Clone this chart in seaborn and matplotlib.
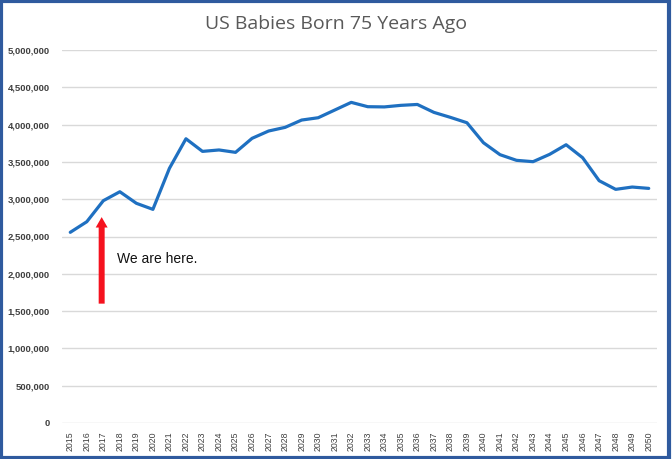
import pandas as pd
import seaborn as sns
import matplotlib.pyplot as plt
from matplotlib.ticker import FuncFormatter
from matplotlib.patches import Rectangle

# data
years = list(range(2015, 2051))
births = [2556000, 2698000, 2980000, 3100000, 2945000, 2864000, 3414000, 3810000,
          3641000, 3660000, 3628000, 3816000, 3914000, 3963000, 4061000, 4092000,
          4195000, 4298000, 4240000, 4237000, 4258000, 4270000, 4164000, 4097000,
          4025000, 3757000, 3597000, 3521000, 3503000, 3601000, 3730000, 3556000,
          3248000, 3132000, 3163000, 3145000]

tabel = pd.DataFrame({"year": years, "births": births})

sns.set_style("white")
plt.rcParams['font.family'] = ['Liberation Sans', 'DejaVu Sans']

fig = plt.figure(figsize=(6.72, 4.59), dpi=100)
ax = fig.add_axes([62 / 672, 1 - 423 / 459, 595 / 672, 373 / 459])

sns.lineplot(data=tabel, x="year", y="births", ax=ax, color="#1F70C1", linewidth=2.3)

ax.set_xlim(2014.5, 2050.5)
ax.set_ylim(0, 5000000)
ax.set_yticks(range(0, 5000001, 500000))
ax.yaxis.set_major_formatter(FuncFormatter(lambda v, p: f"{int(v):,}"))
ax.set_xticks(years)
ax.set_xticklabels([str(y) for y in years], rotation=90)
ax.tick_params(axis="x", labelsize=6.3, colors="#404040", length=0, pad=6)
ax.tick_params(axis="y", labelsize=6.8, colors="#404040", length=0, pad=9)
for lab in ax.get_yticklabels():
    lab.set_fontweight("bold")
ax.grid(axis="y", color="#D9D9D9", linewidth=1)
ax.set_axisbelow(True)
for s in ax.spines.values():
    s.set_visible(False)
ax.set_xlabel("")
ax.set_ylabel("")

# title
fig.text(0.5, 1 - 24 / 459, "US Babies Born 75 Years Ago", ha="center", va="center",
         fontsize=14, color="#595959", family=["Open Sans", "DejaVu Sans"])

# arrow and note
ax.annotate("", xy=(2016.9, 2760000), xytext=(2016.9, 1600000),
            arrowprops=dict(width=4.3, headwidth=8.6, headlength=7.5, shrink=0,
                            color="#F5121E", linewidth=0))
ax.text(2017.85, 2200000, "We are here.", fontsize=10, color="#111111", va="center")

# outer frame
fig.patches.append(Rectangle((0.002, 0.002), 0.994, 0.995, transform=fig.transFigure,
                             fill=False, edgecolor="#2F5A9E", linewidth=3))

fig.savefig("out.png", dpi=100)
